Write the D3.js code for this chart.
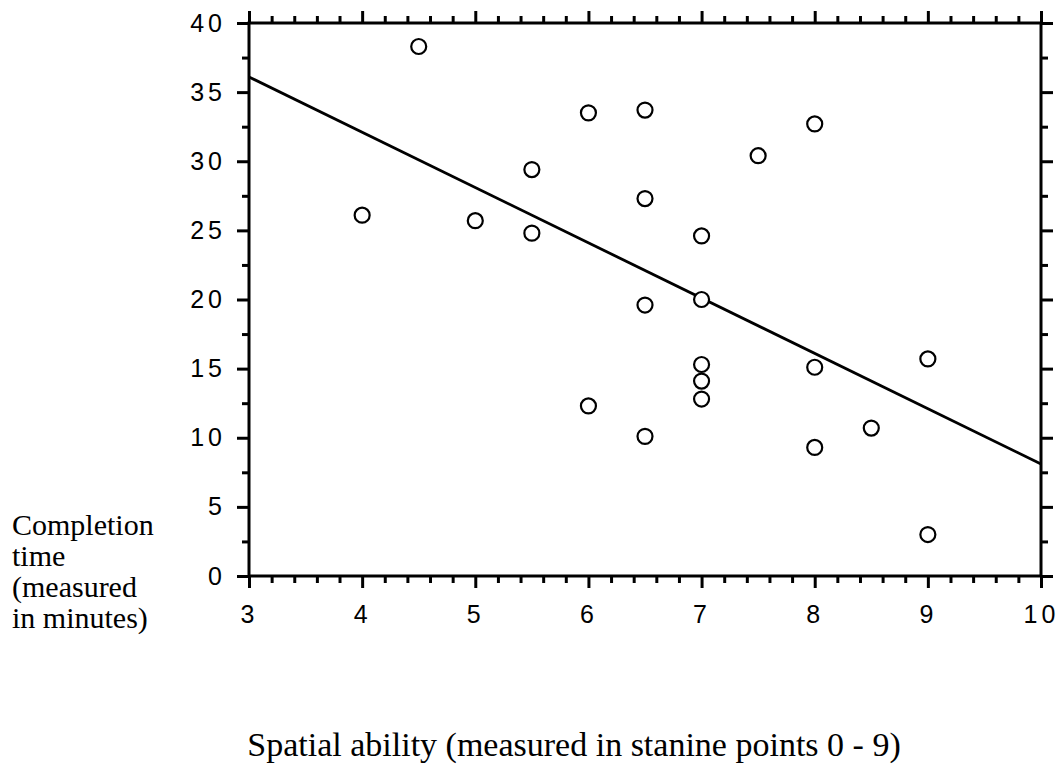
<!DOCTYPE html>
<html>
<head>
<meta charset="utf-8">
<script src="https://cdn.jsdelivr.net/npm/d3@7"></script>
<style>
  body { margin: 0; background: #fff; }
</style>
</head>
<body>
<div id="chart"></div>
<script>
const margin = {top: 23, bottom: 189, right: 19, left: 249}
const width = 1060 - margin.left - margin.right;
const height = 765 - margin.top - margin.bottom;

// spatial ability (stanine) and completion time (minutes)
const ability = [4.5, 4, 5, 5.5, 5.5, 6, 6, 6.5, 6.5, 6.5, 6.5, 7, 7, 7, 7, 7, 7.5, 8, 8, 8, 8.5, 9, 9]
const minutes = [38.3, 26.1, 25.7, 29.4, 24.8, 33.5, 12.3, 33.7, 27.3, 19.6, 10.1, 24.6, 20.0, 15.3, 14.1, 12.8, 30.4, 32.7, 15.1, 9.3, 10.7, 15.7, 3.0]
// fitted line end points
const fitX = [3, 10]
const fitY = [36.1, 8.1]
const xTicks = [3, 4, 5, 6, 7, 8, 9, 10]
const yTicks = [0, 5, 10, 15, 20, 25, 30, 35, 40]

const svg = d3.select("#chart")
  .append("svg")
  .attr("width", 1060)
  .attr("height", 765)

const g = svg.append("g")
  .attr("transform", `translate(${margin.left},${margin.top})`)

const x = d3.scaleLinear().domain([3, 10]).range([0, width]);
const y = d3.scaleLinear().domain([0, 40]).range([height, 0]);

const minorX = d3.range(3, 10.001, 0.2).filter(v => Math.abs(v - Math.round(v)) > 0.01)
const minorY = d3.range(2.5, 40, 5)

function styleAxis(sel) {
  sel.select(".domain").remove();
  sel.selectAll("line").attr("stroke", "#000").attr("stroke-width", 3);
  sel.selectAll("text")
    .attr("fill", "#000")
    .style("font-family", "'Liberation Sans', Arial, sans-serif")
    .style("font-size", "25px")
    .style("letter-spacing", "4px");
}

// minor ticks
g.append("g").attr("transform", `translate(0,${height})`)
  .call(d3.axisBottom(x).tickValues(minorX).tickSize(7).tickFormat(""))
  .call(styleAxis)
g.append("g")
  .call(d3.axisTop(x).tickValues(minorX).tickSize(7).tickFormat(""))
  .call(styleAxis)
g.append("g")
  .call(d3.axisLeft(y).tickValues(minorY).tickSize(7).tickFormat(""))
  .call(styleAxis)
g.append("g").attr("transform", `translate(${width},0)`)
  .call(d3.axisRight(y).tickValues(minorY).tickSize(7).tickFormat(""))
  .call(styleAxis)

// major ticks
g.append("g").attr("transform", `translate(0,${height})`)
  .call(d3.axisBottom(x).tickValues(xTicks).tickSize(12).tickPadding(17).tickFormat(d3.format("d")))
  .call(styleAxis)
g.append("g")
  .call(d3.axisTop(x).tickValues(xTicks).tickSize(12).tickFormat(""))
  .call(styleAxis)
g.append("g")
  .call(d3.axisLeft(y).tickValues(yTicks).tickSize(12).tickPadding(11).tickFormat(d3.format("d")))
  .call(styleAxis)
g.append("g").attr("transform", `translate(${width},0)`)
  .call(d3.axisRight(y).tickValues(yTicks).tickSize(12).tickFormat(""))
  .call(styleAxis)

// frame
g.append("rect")
  .attr("width", width)
  .attr("height", height)
  .attr("fill", "none")
  .attr("stroke", "#000")
  .attr("stroke-width", 3)

// fit line
g.append("line")
  .attr("x1", x(fitX[0])).attr("y1", y(fitY[0]))
  .attr("x2", x(fitX[1])).attr("y2", y(fitY[1]))
  .attr("stroke", "#000")
  .attr("stroke-width", 2.8)

// points
g.selectAll("circle")
  .data(ability)
  .enter()
  .append("circle")
  .attr("cx", d => x(d))
  .attr("cy", (d, i) => y(minutes[i]))
  .attr("r", 7.5)
  .attr("fill", "#fff")
  .attr("stroke", "#000")
  .attr("stroke-width", 2.2)

// y title
const yTitle = ["Completion", "time", "(measured", "in minutes)"]
svg.selectAll("y-title")
  .data(yTitle)
  .enter()
  .append("text")
  .attr("x", 12)
  .attr("y", (d, i) => 535 + i * 31)
  .style("font-family", "'Liberation Serif', 'Times New Roman', serif")
  .style("font-size", "30px")
  .text(d => d)

// x title
svg.append("text")
  .attr("text-anchor", "middle")
  .attr("x", 574)
  .attr("y", 756)
  .style("font-family", "'Liberation Serif', 'Times New Roman', serif")
  .style("font-size", "34px")
  .text("Spatial ability (measured in stanine points 0 - 9)")
</script>
</body>
</html>
